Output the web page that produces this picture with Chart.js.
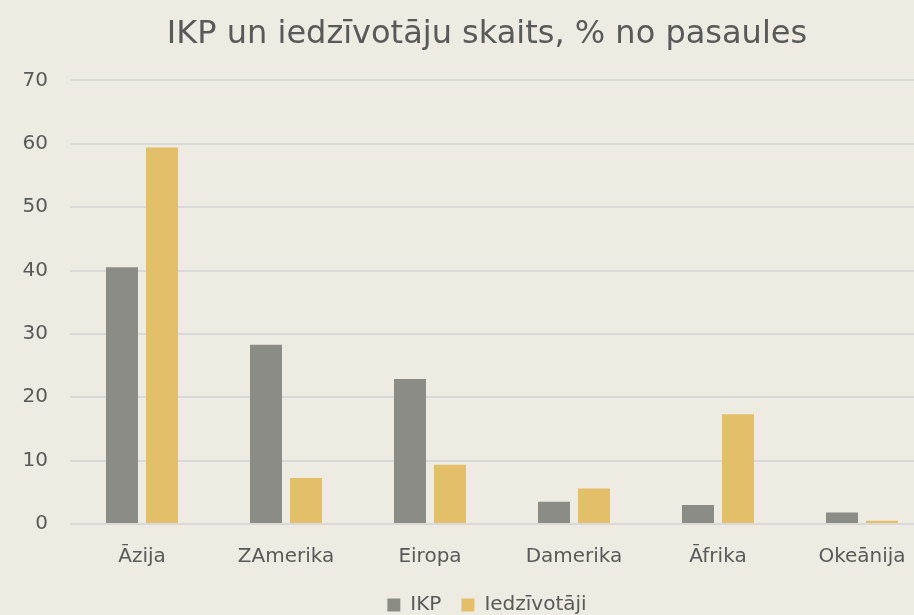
<!DOCTYPE html>
<html>
<head>
<meta charset="utf-8">
<script src="https://cdn.jsdelivr.net/npm/chart.js@4/dist/chart.umd.min.js"></script>
<style>
  html, body { margin: 0; padding: 0; background: #EEEBE3; overflow: hidden; }
  #wrap { width: 974px; height: 615px; }
</style>
</head>
<body>
<div id="wrap"><canvas id="c" width="974" height="615"></canvas></div>
<script>
const categories = ["Āzija", "ZAmerika", "Eiropa", "Damerika", "Āfrika", "Okeānija"];
const ikpValues = [40.5, 28.3, 22.9, 3.5, 3.0, 1.8];
const iedzivotajiValues = [59.4, 7.25, 9.35, 5.6, 17.3, 0.5];
const seriesNames = ["IKP", "Iedzīvotāji"];
const yTicks = [0, 10, 20, 30, 40, 50, 60, 70];
const titleText = "IKP un iedzīvotāju skaits, % no pasaules";

const FONT = "'DejaVu Sans', sans-serif";
const TEXT = "#595959";

const bgPlugin = {
  id: 'bg',
  beforeDraw(chart) {
    const ctx = chart.ctx;
    ctx.save();
    ctx.fillStyle = '#EEEBE3';
    ctx.fillRect(0, 0, chart.width, chart.height);
    ctx.restore();
  }
};

new Chart(document.getElementById('c'), {
  type: 'bar',
  data: {
    labels: categories,
    datasets: [
      { label: seriesNames[0], data: ikpValues, backgroundColor: '#8C8C86',
        categoryPercentage: 0.5556, barPercentage: 0.8 },
      { label: seriesNames[1], data: iedzivotajiValues, backgroundColor: '#E4BF6A',
        categoryPercentage: 0.5556, barPercentage: 0.8 }
    ]
  },
  options: {
    responsive: false,
    animation: false,
    layout: { padding: { left: 0, right: 0, top: 15, bottom: -10 } },
    plugins: {
      title: {
        display: true, text: titleText, color: TEXT,
        font: { family: FONT, size: 32, weight: 'normal' },
        padding: { top: 0, bottom: 27 }
      },
      legend: {
        position: 'bottom',
        labels: {
          color: TEXT, font: { family: FONT, size: 20 },
          boxWidth: 13, boxHeight: 13, padding: 20,
          useBorderRadius: false
        }
      },
      tooltip: { enabled: false }
    },
    scales: {
      x: {
        grid: { display: false, drawTicks: false },
        border: { display: false },
        ticks: { color: TEXT, font: { family: FONT, size: 20 }, padding: 21 },
        afterFit(scale) { scale.height = 51; }
      },
      y: {
        min: 0, max: 70,
        afterBuildTicks(scale) { scale.ticks = yTicks.map(v => ({ value: v })); },
        grid: { color: '#D9D9D9', lineWidth: 2, drawTicks: false },
        border: { display: false },
        ticks: { color: TEXT, font: { family: FONT, size: 20 }, padding: 22 },
        afterFit(scale) { scale.width = 70; }
      },
      yRight: {
        type: 'linear', position: 'right', display: true,
        grid: { display: false, drawTicks: false },
        border: { display: false },
        ticks: { display: false },
        afterFit(scale) { scale.width = 40; }
      }
    }
  },
  plugins: [bgPlugin]
});
</script>
</body>
</html>
